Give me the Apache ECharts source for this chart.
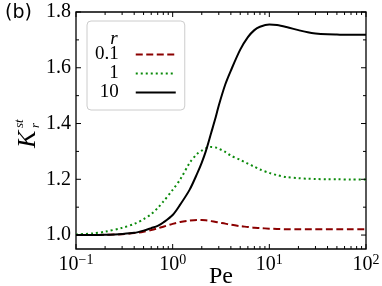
<!DOCTYPE html>
<html><head><meta charset="utf-8">
<script src="https://cdn.jsdelivr.net/npm/echarts@6/dist/echarts.min.js"></script>
<style>html,body{margin:0;padding:0;background:#fff}#c{width:382px;height:286px}</style>
</head><body><div id="c"></div>
<script>
// Data
var pe = [0.1,0.15,0.2,0.3,0.4,0.5,0.6,0.7,0.8,1.0,1.2,1.5,1.8,2.0,2.2,2.5,2.8,3.0,3.5,4,5,6,7,8,10,12,15,20,25,30,40,50,70,100];
var kR01 = [1.0,1.0,1.001,1.003,1.007,1.012,1.018,1.024,1.03,1.04,1.047,1.052,1.054,1.054,1.053,1.05,1.047,1.045,1.041,1.037,1.032,1.029,1.026,1.025,1.023,1.022,1.021,1.021,1.021,1.021,1.021,1.021,1.021,1.021];
var kR1 = [1.002,1.006,1.012,1.026,1.04,1.057,1.075,1.097,1.12,1.162,1.2,1.259,1.292,1.303,1.311,1.316,1.314,1.31,1.298,1.285,1.27,1.256,1.245,1.235,1.223,1.215,1.208,1.204,1.202,1.201,1.2,1.2,1.199,1.199];
var kR10 = [1.0,1.0,1.001,1.004,1.008,1.016,1.025,1.033,1.045,1.072,1.11,1.163,1.222,1.26,1.3,1.366,1.425,1.465,1.54,1.59,1.665,1.71,1.735,1.747,1.755,1.753,1.746,1.735,1.727,1.723,1.72,1.719,1.718,1.718];
var seriesNames = ['0.1','1','10'];
var xMajorTicks = [0.1,1,10,100];
var xMinorTicks = [0.2,0.3,0.4,0.5,0.6,0.7,0.8,0.9,2,3,4,5,6,7,8,9,20,30,40,50,60,70,80,90];
var yMajorTicks = [1.0,1.2,1.4,1.6,1.8];
var yMinorTicks = [1.1,1.3,1.5,1.7];

function zip(xs, ys){ return xs.map(function(x,i){return [x, ys[i]];}); }
var tickData = [];
xMajorTicks.forEach(function(v){tickData.push([v,1.2,0]);});
xMinorTicks.forEach(function(v){tickData.push([v,1.2,1]);});
yMajorTicks.forEach(function(v){tickData.push([1,v,2]);});
yMinorTicks.forEach(function(v){tickData.push([1,v,3]);});

var serif = 'Liberation Serif';
var chart = echarts.init(document.getElementById('c'));
chart.setOption({
  animation:false,
  backgroundColor:'#fff',
  grid:{left:76, top:12, right:16, bottom:37, show:true, borderColor:'#000', borderWidth:1.3, backgroundColor:'transparent', outerBoundsMode:'none'},
  xAxis:{type:'log', logBase:10, min:0.1, max:100,
    axisLine:{show:false}, axisTick:{show:false}, splitLine:{show:false}, minorTick:{show:false},
    axisLabel:{margin:4, color:'#000', fontFamily:serif, fontSize:20,
      formatter:function(v){var e=Math.round(Math.log10(v)); return '{b|10}{s|'+(e<0?'\u2212'+(-e):e)+'}';},
      rich:{b:{fontFamily:serif,fontSize:20,color:'#000'}, s:{fontFamily:serif,fontSize:14,color:'#000',padding:[0,0,10,0]}}},
    name:'Pe', nameLocation:'middle', nameGap:16, nameMoveOverlap:false,
    nameTextStyle:{fontFamily:serif, fontSize:24, color:'#000'}
  },
  yAxis:{type:'value', min:0.95, max:1.8, interval:0.05,
    axisLine:{show:false}, axisTick:{show:false}, splitLine:{show:false},
    axisLabel:{margin:5, color:'#000', fontFamily:serif, fontSize:20,
      formatter:function(v){return Math.abs(v*5-Math.round(v*5))<1e-6 ? v.toFixed(1) : '';}}
  },
  legend:{data:seriesNames, orient:'vertical', align:'right', left:87, top:21,
    itemWidth:40, itemHeight:14, itemGap:0,
    padding:[24,8,8,8], backgroundColor:'#fff', borderColor:'#ccc', borderWidth:1, borderRadius:4,
    itemStyle:{opacity:0},
    textStyle:{fontFamily:serif, fontSize:19, lineHeight:14, color:'#000', padding:[0,12,0,0]}
  },
  graphic:[
    {type:'text', left:5, top:4, style:{text:'(b)', font:'19px "DejaVu Sans"', fill:'#000'}},
    {type:'text', x:114, y:39, z:100, style:{text:'r', font:'italic 19px "Liberation Serif"', fill:'#000', align:'center', verticalAlign:'middle'}},
    {type:'group', x:28, y:131, rotation:Math.PI/2, children:[
      {type:'text', x:-17, y:0, style:{text:'K', font:'italic 26px "Liberation Serif"', fill:'#000', align:'left', verticalAlign:'middle'}},
      {type:'text', x:3, y:-8, style:{text:'st', font:'italic 13px "Liberation Serif"', fill:'#000', align:'left', verticalAlign:'middle'}},
      {type:'text', x:3, y:8, style:{text:'r', font:'italic 13px "Liberation Serif"', fill:'#000', align:'left', verticalAlign:'middle'}}
    ]}
  ],
  series:[
    {name:'0.1', type:'line', data:zip(pe,kR01), symbol:'none', smooth:0.3,
      lineStyle:{color:'#8b0000', width:2, type:[7,3.5]}, itemStyle:{color:'#8b0000'}},
    {name:'1', type:'line', data:zip(pe,kR1), symbol:'none', smooth:0.3,
      lineStyle:{color:'#0a8a0a', width:2, type:[2,3]}, itemStyle:{color:'#0a8a0a'}},
    {name:'10', type:'line', data:zip(pe,kR10), symbol:'none', smooth:0.3,
      lineStyle:{color:'#000', width:2}, itemStyle:{color:'#000'}},
    {name:'ticks', type:'custom', data:tickData, silent:true, z:10,
      renderItem:function(params, api){
        var cs = params.coordSys, k = api.value(2);
        var len = (k===0||k===2)?5:3;
        var st = {stroke:'#000', lineWidth:1};
        if (k<2){
          var x = api.coord([api.value(0), 1.2])[0];
          return {type:'group', children:[
            {type:'line', shape:{x1:x,y1:cs.y+cs.height,x2:x,y2:cs.y+cs.height-len}, style:st},
            {type:'line', shape:{x1:x,y1:cs.y,x2:x,y2:cs.y+len}, style:st}]};
        }
        var y = api.coord([1, api.value(1)])[1];
        return {type:'group', children:[
          {type:'line', shape:{x1:cs.x,y1:y,x2:cs.x+len,y2:y}, style:st},
          {type:'line', shape:{x1:cs.x+cs.width,y1:y,x2:cs.x+cs.width-len,y2:y}, style:st}]};
      }}
  ]
});
</script></body></html>
